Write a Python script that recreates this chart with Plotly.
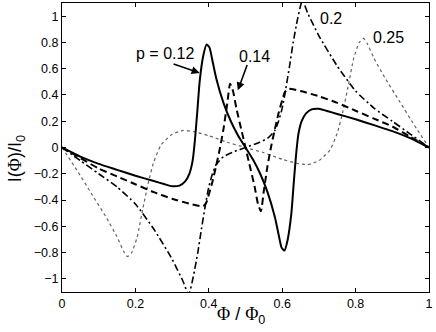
import plotly.graph_objects as go

# p = 0.12 (solid)
x_012 = [0, 0.05, 0.1, 0.15, 0.2, 0.25, 0.28, 0.30, 0.32, 0.335, 0.347, 0.356, 0.362, 0.368, 0.375, 0.385,
         0.394, 0.402, 0.41, 0.42, 0.44, 0.46, 0.48, 0.50, 0.52, 0.54, 0.56, 0.58, 0.59, 0.598, 0.606, 0.615,
         0.625, 0.632, 0.638, 0.644, 0.653, 0.665, 0.68, 0.70, 0.72, 0.75, 0.8, 0.85, 0.9, 0.95, 1.0]
y_012 = [0, -0.07, -0.125, -0.17, -0.215, -0.255, -0.28, -0.295, -0.29, -0.26, -0.2, -0.1, 0.05, 0.25, 0.5, 0.7,
         0.785, 0.76, 0.66, 0.53, 0.34, 0.2, 0.09, 0, -0.09, -0.2, -0.34, -0.53, -0.66, -0.76, -0.785, -0.7,
         -0.5, -0.25, -0.05, 0.1, 0.2, 0.26, 0.29, 0.295, 0.28, 0.255, 0.215, 0.17, 0.125, 0.07, 0]

# p = 0.14 (dashed)
x_014 = [0, 0.05, 0.1, 0.15, 0.2, 0.25, 0.3, 0.35, 0.375, 0.385, 0.393, 0.40, 0.41, 0.42, 0.43, 0.44, 0.45,
         0.458, 0.466, 0.475, 0.49, 0.50, 0.51, 0.525, 0.534, 0.542, 0.55, 0.56, 0.57, 0.58, 0.59, 0.60, 0.607,
         0.615, 0.625, 0.65, 0.7, 0.75, 0.8, 0.85, 0.9, 0.95, 1.0]
y_014 = [0, -0.08, -0.16, -0.22, -0.28, -0.34, -0.39, -0.43, -0.445, -0.447, -0.42, -0.36, -0.26, -0.14, -0.01,
         0.14, 0.33, 0.485, 0.43, 0.3, 0.12, 0, -0.12, -0.3, -0.43, -0.485, -0.33, -0.14, 0.01, 0.14, 0.26, 0.36,
         0.42, 0.447, 0.445, 0.43, 0.39, 0.34, 0.28, 0.22, 0.16, 0.08, 0]

# p = 0.2 (dash-dot)
x_020 = [0, 0.05, 0.1, 0.15, 0.2, 0.25, 0.3, 0.33, 0.345, 0.358, 0.37, 0.38, 0.39, 0.40, 0.41, 0.42, 0.44, 0.47,
         0.5, 0.53, 0.56, 0.58, 0.59, 0.60, 0.61, 0.62, 0.63, 0.642, 0.655, 0.67, 0.7, 0.75, 0.8, 0.85, 0.9,
         0.95, 1.0]
y_020 = [0, -0.1, -0.2, -0.3, -0.43, -0.62, -0.85, -1.02, -1.12, -0.98, -0.8, -0.62, -0.45, -0.3, -0.2, -0.13,
         -0.07, -0.03, 0, 0.03, 0.07, 0.13, 0.2, 0.3, 0.45, 0.62, 0.8, 0.98, 1.12, 1.02, 0.85, 0.62, 0.43, 0.3,
         0.2, 0.1, 0]

# p = 0.25 (dotted)
x_025 = [0, 0.04, 0.08, 0.12, 0.15, 0.168, 0.178, 0.19, 0.205, 0.22, 0.235, 0.25, 0.27, 0.3, 0.33, 0.36, 0.4,
         0.45, 0.5, 0.55, 0.6, 0.64, 0.67, 0.7, 0.73, 0.75, 0.765, 0.78, 0.795, 0.81, 0.822, 0.832, 0.85, 0.88,
         0.92, 0.96, 1.0]
y_025 = [0, -0.17, -0.35, -0.53, -0.68, -0.79, -0.83, -0.8, -0.68, -0.47, -0.27, -0.11, 0.02, 0.1, 0.13, 0.12,
         0.09, 0.04, 0, -0.04, -0.09, -0.12, -0.13, -0.1, -0.02, 0.11, 0.27, 0.47, 0.68, 0.8, 0.83, 0.79, 0.68,
         0.53, 0.35, 0.17, 0]

fig = go.Figure()
fig.add_trace(go.Scatter(x=x_025, y=y_025, mode='lines', line=dict(color='rgb(100,100,100)', width=1.2, dash='dot', shape='spline', smoothing=0.5)))
fig.add_trace(go.Scatter(x=x_020, y=y_020, mode='lines', line=dict(color='black', width=1.6, dash='7px,3px,2px,3px', shape='spline', smoothing=0.5)))
fig.add_trace(go.Scatter(x=x_014, y=y_014, mode='lines', line=dict(color='black', width=2, dash='7px,4px', shape='spline', smoothing=0.5)))
fig.add_trace(go.Scatter(x=x_012, y=y_012, mode='lines', line=dict(color='black', width=2, shape='spline', smoothing=0.5)))

txt = dict(family='Liberation Sans, Arial', size=16, color='black')
fig.add_annotation(x=0.375, y=0.568, ax=0.30, ay=0.64, xref='x', yref='y', axref='x', ayref='y',
                   showarrow=True, arrowhead=2, arrowsize=1, arrowwidth=1.6, arrowcolor='black', text='')
fig.add_annotation(x=0.28, y=0.717, text='p = 0.12', showarrow=False, font=txt)
fig.add_annotation(x=0.479, y=0.435, ax=0.506, ay=0.64, xref='x', yref='y', axref='x', ayref='y',
                   showarrow=True, arrowhead=2, arrowsize=1, arrowwidth=1.6, arrowcolor='black', text='')
fig.add_annotation(x=0.524, y=0.69, text='0.14', showarrow=False, font=txt)
fig.add_annotation(x=0.732, y=0.98, text='0.2', showarrow=False, font=txt)
fig.add_annotation(x=0.89, y=0.836, text='0.25', showarrow=False, font=txt)

# axis titles
phi = '<span style="font-family:Liberation Serif">Φ</span>'
title_font = dict(family='Liberation Sans, Arial', size=18, color='black')
fig.add_annotation(x=0.488, y=-0.035, xref='paper', yref='paper', xanchor='center', yanchor='top',
                   text=phi + ' / ' + phi + '<sub>0</sub>', showarrow=False, font=title_font)
fig.add_annotation(x=-0.125, y=0.46, xref='paper', yref='paper', xanchor='center', yanchor='middle',
                   textangle=-90, text='I(' + phi + ')/I<sub>0</sub>', showarrow=False, font=title_font)

axis = dict(showline=True, linecolor='black', linewidth=1, mirror='ticks', ticks='inside', ticklen=4,
            tickcolor='black', showgrid=False, zeroline=False, automargin=False, ticklabeloverflow='allow',
            tickfont=dict(family='Liberation Sans, Arial', size=12.5, color='black'))
fig.update_xaxes(range=[0, 1], dtick=0.2, **axis)
fig.update_yaxes(range=[-1.1, 1.1], dtick=0.2, **axis)
fig.update_layout(width=436, height=332, margin=dict(l=62, r=7, t=3, b=40), showlegend=False,
                  plot_bgcolor='white', paper_bgcolor='white')
fig.write_html("out.html", config={'displayModeBar': False},
               post_script="document.body.style.margin='0';")
